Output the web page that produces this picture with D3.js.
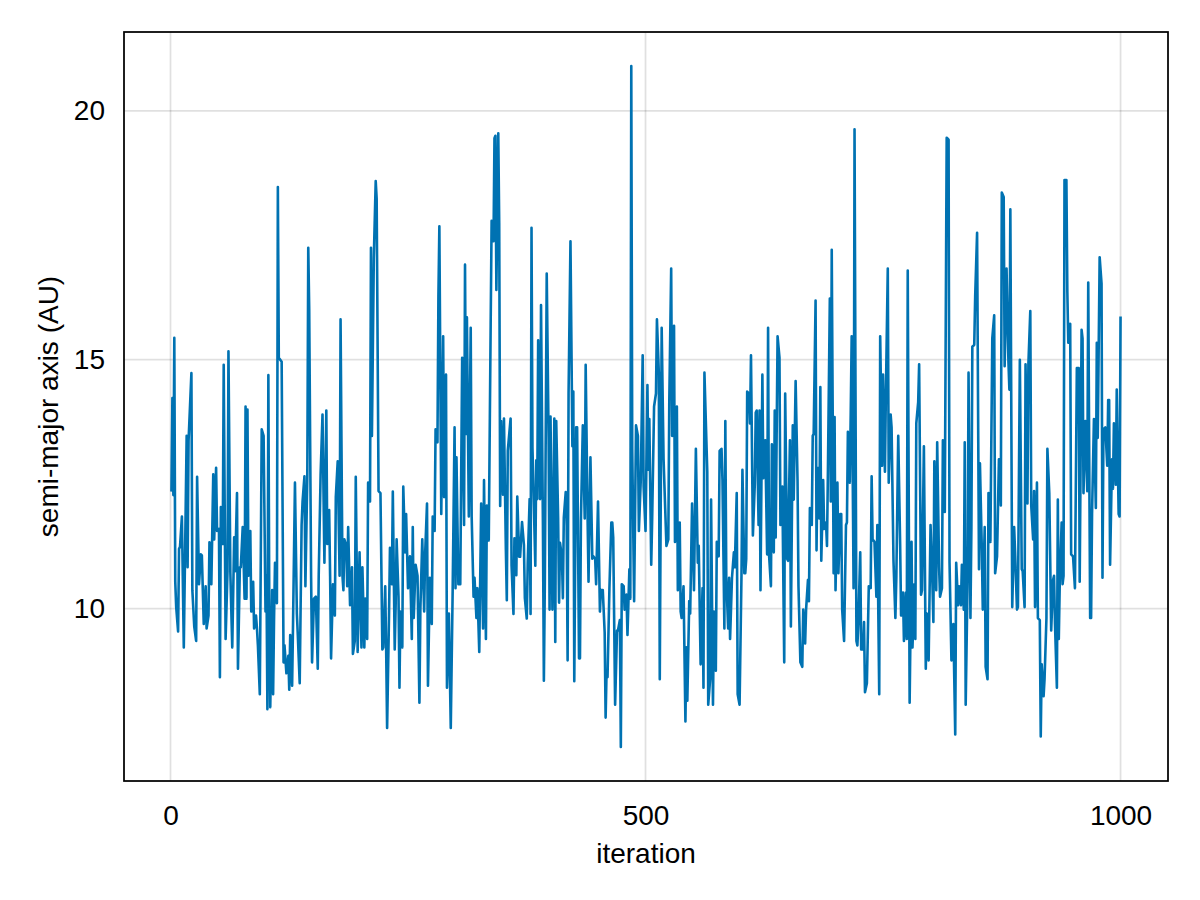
<!DOCTYPE html>
<html><head><meta charset="utf-8">
<script src="https://cdn.jsdelivr.net/npm/d3@7"></script>
<style>body{margin:0;background:#fff}svg{display:block}</style>
</head><body><svg id="chart" width="1200" height="900"></svg>
<script>
const iterations = [
1,2,3,4,5,6,8,9,10,12,14,17,18,19,22,23,25,27,28,30,
32,33,35,37,38,40,41,43,45,46,48,49,51,52,53,55,56,58,60,61,
63,65,67,68,70,71,73,74,76,78,79,80,81,82,84,85,87,88,90,91,
92,94,96,98,100,101,102,103,104,105,107,108,109,110,112,113,114,117,119,120,
122,123,124,125,126,128,129,131,133,134,136,138,139,141,142,144,145,146,148,149,
151,153,155,156,158,160,162,164,165,167,168,169,171,173,174,176,178,179,181,182,
183,185,186,187,189,190,191,192,194,195,197,199,201,202,204,205,207,208,210,211,
212,214,216,217,219,221,223,224,226,227,228,230,231,233,234,236,237,238,240,241,
242,244,245,247,248,250,252,254,255,256,258,260,262,263,265,267,268,270,271,273,
275,276,278,279,281,282,283,285,287,288,290,291,293,295,297,299,300,301,303,305,
307,309,310,311,312,314,316,317,319,320,322,323,325,327,329,330,332,333,335,337,
338,340,341,342,343,345,346,347,348,350,351,353,354,355,358,359,361,362,364,365,
367,368,370,372,373,375,376,378,379,380,381,384,385,386,387,389,390,392,393,394,
396,398,399,400,402,404,405,406,408,409,410,412,413,414,416,417,418,419,421,423,
424,425,427,428,430,431,432,434,436,437,439,440,442,444,445,447,448,450,452,453,
455,457,458,459,460,462,464,465,466,468,470,471,473,474,475,477,478,480,481,483,
484,485,486,488,490,492,493,495,497,498,500,502,503,504,506,507,509,511,512,514,
515,517,519,522,524,525,527,528,530,531,533,534,536,537,538,540,542,543,544,546,
547,549,551,553,555,556,558,560,561,562,565,566,568,569,571,572,574,575,577,578,
580,581,583,584,585,587,588,589,591,593,594,596,597,599,601,602,604,605,606,607,
609,610,611,613,615,616,617,619,620,621,623,624,626,628,629,630,632,633,635,636,
637,639,641,642,644,646,647,649,650,652,653,655,656,658,660,661,663,665,666,668,
669,671,672,673,675,676,677,679,680,681,683,684,685,687,688,690,691,692,694,695,
696,698,699,700,702,703,705,706,707,709,711,712,713,715,716,717,719,720,722,723,
724,726,727,729,730,731,733,735,737,738,739,741,743,744,746,747,749,750,752,753,
755,756,758,759,761,763,764,766,768,769,771,772,774,775,776,778,780,781,783,784,
785,787,788,790,791,793,795,796,798,800,802,803,804,806,807,809,810,812,813,815,
817,819,820,822,824,826,827,829,830,832,833,835,836,837,839,840,842,843,844,846,
847,849,851,852,854,855,857,858,860,861,863,865,867,868,870,872,873,874,875,877,
878,880,882,883,884,886,888,889,891,892,894,896,897,899,900,902,903,905,906,908,
909,910,912,913,915,916,917,919,920,922,923,925,927,929,930,931,933,934,935,936,
938,939,940,941,943,944,945,947,948,950,952,954,956,957,959,960,961,963,965,966,
968,969,970,972,974,975,976,978,980,981,982,984,986,987,988,989,991,992,993,995,
996,998,999,1000
];
const semiMajorAxis = [
12.35,14.23,12.28,15.44,10.54,10.03,9.54,11.2,11.24,11.85,9.22,13.47,10.83,13.37,14.73,10.37,9.64,9.35,12.65,10.49,
11.09,11.07,9.69,10.45,9.6,9.86,11.33,10.49,12.7,11.39,12.83,11.56,11.6,8.62,12.04,11.3,14.9,9.39,10.75,15.17,
10.71,9.22,11.43,10.75,12.32,8.79,10.83,10.83,11.64,10.2,14.06,10.2,14.0,10.66,11.56,9.94,10.54,9.6,9.86,9.6,
9.26,8.28,13.6,13.47,9.94,10.66,7.98,14.69,9.94,8.02,10.37,8.28,9.81,10.92,10.11,18.47,15.04,14.96,8.92,9.26,
8.7,8.83,9.05,8.37,9.47,8.45,9.73,12.53,9.9,9.47,8.5,11.68,12.15,12.66,10.45,12.66,17.25,16.02,10.62,8.92,
10.2,10.24,8.79,10.66,12.7,13.9,10.92,13.98,11.3,11.98,10.66,9.0,10.49,9.86,12.24,12.96,10.66,15.81,10.66,10.37,
11.39,11.26,10.45,11.64,10.07,10.15,10.83,9.09,9.35,12.65,9.13,11.13,9.22,10.83,9.22,10.2,9.39,12.53,12.15,17.25,
13.47,17.04,18.59,18.23,12.36,12.32,9.18,9.22,10.45,9.18,7.6,9.86,11.22,10.49,12.35,9.18,10.07,11.39,10.24,8.41,
9.94,9.22,12.45,11.13,11.9,10.41,11.05,9.39,11.64,9.81,10.88,10.66,8.11,9.98,11.39,9.94,11.09,12.11,8.45,10.62,
9.69,11.85,11.56,13.6,13.34,16.28,17.68,11.9,15.47,12.24,14.7,8.41,9.9,7.6,10.37,13.64,10.41,13.04,10.49,10.49,
15.04,11.68,16.91,13.51,15.85,11.85,15.64,11.85,10.24,10.62,9.81,10.41,9.13,12.11,9.6,12.58,9.39,12.07,11.37,15.71,
17.79,17.38,19.45,19.5,16.4,19.55,17.74,12.06,13.77,12.29,13.82,11.18,10.17,13.17,13.82,10.86,9.89,11.41,10.67,12.25,
11.04,11.04,11.74,11.28,10.21,9.8,10.91,12.2,9.89,17.65,13.22,10.86,12.98,12.2,15.39,12.2,16.1,11.69,8.55,10.49,
16.73,13.4,9.98,13.86,9.98,13.82,9.33,13.77,11.83,10.12,11.32,11.04,10.21,11.83,12.34,11.68,8.96,14.32,17.38,13.26,
14.36,8.54,13.64,13.64,9.0,9.0,11.77,13.68,11.81,14.9,11.85,10.54,13.04,11.0,11.05,11.0,10.49,12.15,9.94,10.37,
10.37,9.52,7.81,8.75,8.62,10.41,11.73,11.73,11.43,8.07,9.56,9.56,9.77,7.22,10.49,10.45,9.98,10.28,9.47,10.79,
10.2,20.9,13.21,10.15,13.68,13.47,11.56,12.58,15.09,12.45,11.56,14.49,12.79,13.81,10.88,11.81,14.06,14.32,15.81,14.74,
8.58,15.64,13.0,11.26,11.39,14.15,16.83,13.47,15.68,11.34,14.06,10.37,11.73,9.94,9.81,10.45,7.73,9.22,8.15,10.15,
9.9,12.11,10.37,13.21,10.92,11.26,8.88,10.41,8.41,14.74,12.75,8.07,8.58,12.19,8.07,9.94,8.75,11.34,11.05,13.17,
13.21,12.58,9.6,13.77,10.62,9.6,10.62,9.39,10.62,11.13,10.83,12.32,8.28,8.07,10.66,12.79,10.71,10.71,11.0,14.36,
14.32,13.72,15.09,11.47,12.49,13.94,13.98,11.68,13.98,10.37,14.7,12.62,13.38,11.09,15.64,11.09,10.45,13.3,11.13,13.98,
11.43,15.47,15.04,11.68,12.45,8.92,14.32,11.0,10.96,13.38,9.64,13.68,12.19,14.57,12.58,10.45,8.92,8.83,9.98,9.3,
9.98,10.58,10.15,12.02,11.68,13.47,13.51,16.19,11.17,12.83,11.81,14.45,10.96,12.58,11.6,11.73,11.26,12.79,16.23,12.15,
17.21,10.71,13.85,10.37,12.53,10.71,11.9,11.9,9.98,9.35,11.68,11.73,13.55,12.53,13.94,15.47,10.41,19.63,9.35,9.26,
9.69,11.13,9.18,9.18,9.73,8.32,8.5,10.45,10.41,12.66,11.39,11.34,10.24,11.68,8.28,15.47,12.87,14.7,12.75,14.32,
16.83,12.53,13.9,13.64,10.96,9.81,10.62,13.47,11.3,9.86,10.32,9.35,10.32,9.39,16.79,8.11,11.34,9.22,10.49,9.39,
13.72,14.15,14.91,10.28,10.37,13.26,8.79,9.9,8.96,11.68,10.49,9.73,12.96,10.37,13.34,10.83,10.24,10.41,13.38,11.94,
19.46,19.42,10.92,8.96,9.69,7.47,10.92,10.07,10.45,10.07,10.88,9.98,13.34,8.07,10.58,14.74,9.81,11.6,15.26,15.3,
16.28,17.55,10.79,12.92,11.17,9.98,11.64,8.83,8.58,12.32,11.34,15.43,15.89,10.71,11.05,13.0,13.0,12.07,18.36,18.27,
14.87,16.83,14.96,14.4,18.02,10.03,11.64,11.13,9.98,10.03,15.0,10.79,10.75,10.03,14.91,12.11,14.91,15.98,12.07,11.39,
12.36,10.03,12.53,9.81,9.77,7.43,8.88,8.24,8.58,9.81,13.21,12.32,9.56,10.58,10.66,9.69,8.41,12.19,9.39,10.49,
11.73,10.49,10.66,18.61,18.61,16.36,15.34,15.72,11.09,11.05,10.41,14.83,14.83,10.54,15.6,15.43,12.32,13.77,12.36,16.55,
9.81,9.81,11.9,13.81,12.02,15.34,13.43,17.06,16.53,10.62,13.6,13.64,12.87,14.19,14.19,10.88,13.0,12.41,13.72,12.49,
14.4,11.9,11.85,15.87
];
const xTicks = [0, 500, 1000];
const yTicks = [10, 15, 20];
const xLabel = "iteration";
const yLabel = "semi-major axis (AU)";

const W = 1200, H = 900;
const m = {left: 124, top: 32, right: 1168, bottom: 781};
const FONT = "'Liberation Sans', Arial, Helvetica, sans-serif";
const data = iterations.map((it, i) => ({x: it, y: semiMajorAxis[i]}));

const xExt = d3.extent(iterations), yExt = d3.extent(semiMajorAxis);
const xPad = (xExt[1] - xExt[0]) * 0.05, yPad = (yExt[1] - yExt[0]) * 0.05;
const x = d3.scaleLinear().domain([xExt[0] - xPad, xExt[1] + xPad]).range([m.left, m.right]);
const y = d3.scaleLinear().domain([yExt[0] - yPad, yExt[1] + yPad]).range([m.bottom, m.top]);

const svg = d3.select("#chart");
svg.append("rect").attr("width", W).attr("height", H).attr("fill", "#fff");

svg.append("defs").append("clipPath").attr("id", "clip")
  .append("rect").attr("x", m.left).attr("y", m.top)
  .attr("width", m.right - m.left).attr("height", m.bottom - m.top);

// grid
const grid = svg.append("g");
grid.selectAll("line.gx").data(xTicks).join("line")
  .attr("x1", d => x(d)).attr("x2", d => x(d)).attr("y1", m.top).attr("y2", m.bottom)
  .attr("stroke", "rgba(0,0,0,0.12)").attr("stroke-width", 1.75);
grid.selectAll("line.gy").data(yTicks).join("line")
  .attr("y1", d => y(d)).attr("y2", d => y(d)).attr("x1", m.left).attr("x2", m.right)
  .attr("stroke", "rgba(0,0,0,0.12)").attr("stroke-width", 1.75);

// line
svg.append("path").datum(data)
  .attr("clip-path", "url(#clip)")
  .attr("fill", "none").attr("stroke", "#0072B2").attr("stroke-width", 2.6)
  .attr("stroke-linejoin", "round")
  .attr("d", d3.line().x(d => x(d.x)).y(d => y(d.y)));

// frame
svg.append("rect").attr("x", m.left).attr("y", m.top)
  .attr("width", m.right - m.left).attr("height", m.bottom - m.top)
  .attr("fill", "none").attr("stroke", "#000").attr("stroke-width", 1.75);

// axes (tick labels only, no tick marks)
const xAxis = d3.axisBottom(x).tickValues(xTicks).tickFormat(d3.format("d")).tickSize(0).tickPadding(24);
const gx = svg.append("g").attr("transform", `translate(0,${m.bottom})`).call(xAxis);
gx.select(".domain").remove();
gx.selectAll("text").attr("font-family", FONT).attr("font-size", 28).attr("fill", "#000");

const yAxis = d3.axisLeft(y).tickValues(yTicks).tickFormat(d3.format("d")).tickSize(0).tickPadding(19);
const gy = svg.append("g").attr("transform", `translate(${m.left},0)`).call(yAxis);
gy.select(".domain").remove();
gy.selectAll("text").attr("font-family", FONT).attr("font-size", 28).attr("fill", "#000");

svg.append("text").attr("x", (m.left + m.right) / 2).attr("y", 863)
  .attr("text-anchor", "middle").attr("font-family", FONT).attr("font-size", 28)
  .attr("fill", "#000").text(xLabel);

svg.append("text").attr("transform", `translate(58,${(m.top + m.bottom) / 2}) rotate(-90)`)
  .attr("text-anchor", "middle").attr("font-family", FONT).attr("font-size", 28)
  .attr("fill", "#000").text(yLabel);
</script>
</body></html>
